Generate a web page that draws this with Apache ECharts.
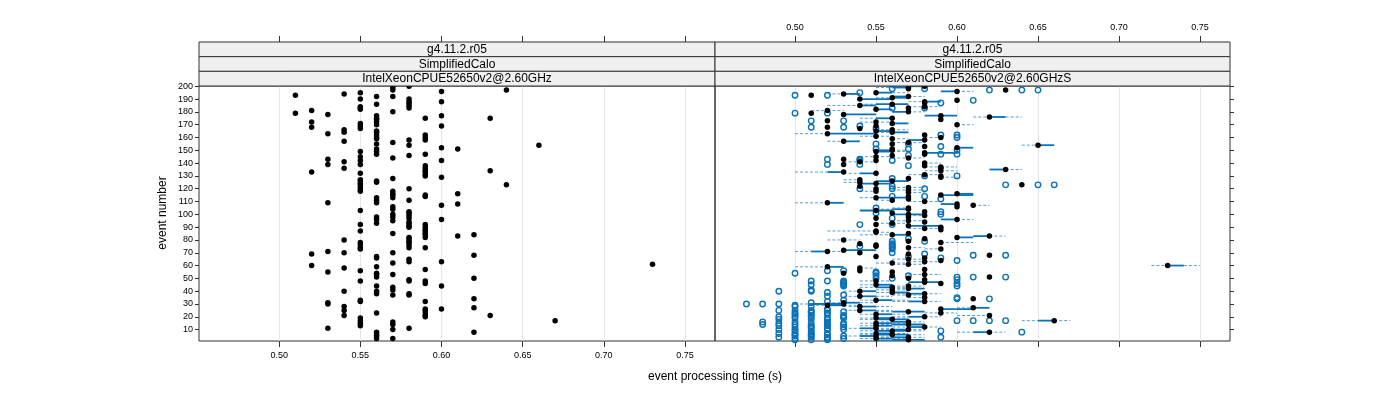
<!DOCTYPE html>
<html><head><meta charset="utf-8">
<script src="https://cdn.jsdelivr.net/npm/echarts@6/dist/echarts.min.js"></script>
<style>html,body{margin:0;padding:0;background:#fff}#c{width:1400px;height:400px}</style>
</head><body><div id="c"></div>
<script>
// ---------------- data ----------------
const xTicks = [0.50, 0.55, 0.60, 0.65, 0.70, 0.75];
const yTicks = [10,20,30,40,50,60,70,80,90,100,110,120,130,140,150,160,170,180,190,200];
const stripLeft = ["g4.11.2.r05", "SimplifiedCalo", "IntelXeonCPUE52650v2@2.60GHz"];
const stripRight = ["g4.11.2.r05", "SimplifiedCalo", "IntelXeonCPUE52650v2@2.60GHzS"];
const xTitle = "event processing time (s)";
const yTitle = "event number";

// left panel: processing time (hundredths of s) and the events at that time
const leftTimes = [51, 52, 53, 54, 55, 56, 57, 58, 59, 60, 61, 62, 63, 64, 66, 67, 73];
const leftEvents = [
  [193,179],
  [181,172,168,133,69,60],
  [178,163,143,139,109,71,55,31,30,11],
  [194,166,164,157,141,136,80,70,58,40,28,25,21],
  [195,190,184,183,182,171,169,167,149,145,142,139,132,127,126,124,123,121,119,118,103,92,87,78,76,74,73,56,48,33,32,19,17,15,13],
  [192,186,177,175,174,172,170,165,164,162,160,159,155,151,149,147,126,125,113,111,109,98,96,93,67,66,59,54,53,51,44,40,38,23,8,6,5,3],
  [199,197,192,180,156,144,128,118,116,115,113,106,104,100,98,95,85,70,62,53,43,41,37,16,14,10,3,1],
  [200,190,188,187,185,183,158,154,146,120,111,102,101,99,97,94,93,91,90,82,81,79,78,76,74,65,63,49,48,38,37,11,1],
  [175,162,160,158,147,138,136,134,133,131,130,115,114,92,90,88,87,85,84,82,74,57,48,46,32,26,25,23,21,20],
  [196,188,177,169,152,142,129,107,96,63,44,26],
  [151,116,108,83],
  [84,68,50,34,27,8],
  [175,134,21],
  [197,123],
  [154],
  [17],
  [61]
];

// right panel: box-and-whisker per event (hundredths of s), events 200 down to 1
const rMed = [
  58,57,57,63,60,55,53,51,57,56,
  54,60,58,58,56,54,58,57,55,52,
  57,51,53,59,62,56,59,52,55,56,
  60,55,52,54,56,55,56,52,58,55,
  59,56,58,53,57,56,65,58,60,56,
  56,55,58,58,56,55,57,53,55,54,
  58,53,58,59,59,63,59,53,55,58,
  59,59,57,54,56,54,55,64,54,57,
  55,57,55,57,60,59,57,55,57,56,
  58,52,60,61,60,57,57,55,58,56,
  57,58,57,55,60,57,58,56,55,57,
  59,58,59,55,55,57,56,62,60,58,
  53,57,59,54,55,55,57,59,53,52,
  54,57,62,55,58,57,59,58,56,57,
  73,52,54,58,54,56,53,58,56,62,
  57,58,55,58,59,55,57,56,57,56,
  54,56,58,57,54,58,61,55,58,53,
  53,52,54,61,59,54,57,59,55,62,
  58,55,56,66,57,55,57,55,58,55,
  57,56,62,55,56,55,57,55,57,56
];
const rQ1 = [
  57,56,57,63,59,55,53,51,56,56,
  54,60,58,58,55,54,58,57,55,52,
  56,51,53,58,62,55,59,52,55,56,
  60,55,52,54,56,55,56,52,58,55,
  59,56,57,53,57,56,65,58,60,56,
  55,55,58,58,56,55,57,53,55,54,
  58,53,58,59,59,62,59,52,54,58,
  59,59,57,54,55,54,54,64,54,57,
  55,57,55,57,60,59,57,55,57,56,
  58,52,59,61,60,57,56,54,58,56,
  56,58,57,55,59,57,58,56,55,57,
  59,58,59,55,55,57,56,61,60,58,
  53,57,59,54,55,55,57,59,53,51,
  54,57,62,55,58,57,59,58,56,57,
  73,52,54,58,54,56,53,58,56,62,
  57,58,55,57,59,55,57,55,57,56,
  54,56,57,57,54,58,61,55,57,53,
  51,52,54,61,59,54,56,59,55,62,
  57,55,55,65,56,55,56,55,57,54,
  56,55,61,55,55,54,56,55,56,55
];
const rQ3 = [
  58,57,57,63,60,56,54,51,57,57,
  56,60,59,58,57,55,58,57,56,52,
  57,51,55,60,63,56,59,52,55,57,
  60,55,52,54,56,56,57,55,58,55,
  59,56,58,54,57,56,66,58,61,56,
  56,56,60,58,56,55,57,53,55,54,
  58,53,58,59,59,63,59,53,55,58,
  59,59,57,54,57,54,56,64,54,57,
  55,57,55,57,61,61,57,57,57,56,
  58,53,60,61,60,57,57,56,58,56,
  58,58,57,55,60,57,58,56,55,59,
  59,58,59,55,55,57,57,62,61,58,
  53,57,59,54,55,55,57,59,55,52,
  54,57,62,55,58,57,59,58,56,57,
  74,53,54,58,54,56,53,58,56,62,
  57,58,55,59,59,56,57,56,58,56,
  55,57,58,57,55,58,61,56,58,54,
  53,53,55,62,61,55,58,59,56,62,
  58,56,57,66,57,56,58,56,58,55,
  57,57,62,56,57,55,57,56,58,57
];
const rLo = [
  56,55,57,63,59,55,52,51,56,55,
  54,60,57,58,54,52,57,57,55,51,
  56,51,53,58,61,54,59,52,54,56,
  60,55,52,54,55,55,55,50,58,54,
  58,56,57,52,56,56,64,58,60,56,
  55,55,58,58,56,54,56,53,55,53,
  58,53,58,58,59,62,58,50,53,57,
  59,59,57,53,55,53,54,64,54,56,
  55,56,54,57,60,59,57,54,57,55,
  57,50,59,61,60,56,55,54,58,56,
  56,57,57,55,59,56,58,55,55,57,
  59,57,59,52,55,57,54,61,60,58,
  52,57,59,54,55,55,57,58,53,50,
  54,57,62,55,58,56,59,57,55,56,
  72,50,54,58,54,56,53,57,56,62,
  57,58,54,57,59,54,56,54,56,55,
  53,55,56,56,53,57,61,54,56,52,
  50,51,53,60,59,53,55,58,54,60,
  56,54,54,64,55,54,55,54,56,53,
  55,54,60,54,54,53,55,54,55,54
];
const rHi = [
  58,57,57,63,61,57,54,51,58,57,
  56,60,59,58,57,55,59,57,56,53,
  58,51,55,60,64,56,59,52,56,57,
  61,55,52,54,57,56,57,55,58,56,
  59,57,58,54,58,56,66,58,61,56,
  57,57,60,58,56,56,58,53,55,55,
  59,53,58,60,59,64,60,53,55,59,
  59,60,57,54,57,54,56,64,54,58,
  55,58,55,58,61,61,57,57,57,56,
  59,53,60,62,60,57,57,56,58,56,
  58,58,57,55,61,58,58,57,55,59,
  59,59,59,55,56,57,57,63,61,58,
  54,57,61,54,55,55,58,59,55,53,
  54,57,62,55,58,58,59,59,57,58,
  75,53,55,58,54,56,53,59,56,62,
  57,58,56,59,59,56,58,57,58,57,
  55,57,59,58,56,58,61,57,59,55,
  53,54,56,62,61,56,58,60,57,62,
  59,57,57,67,58,57,58,56,59,56,
  58,58,63,57,58,56,58,57,58,57
];
// outlying runs: [event, [times in hundredths]]
const rOutliers = [
  [198,[56,58]],[197,[62,64,65]],[195,[54]],[193,[50,52]],[189,[61]],[187,[59]],[183,[56,58]],
  [179,[50,52]],[173,[51,53]],[169,[54]],[168,[51,53]],[167,[55]],[162,[59,60]],[160,[60]],
  [155,[55,57]],[153,[59]],[151,[55,57]],[150,[60]],[147,[59,60]],[146,[57]],[143,[52,54]],
  [142,[54,56]],[139,[52,54]],[138,[57]],[130,[58,60]],[128,[56]],[123,[63,65,66]],[122,[56]],
  [120,[54,56,58]],[114,[56,58]],[112,[59]],[105,[55]],[102,[59]],[101,[55]],[100,[59]],[97,[56]],
  [92,[54,56]],[81,[57]],[79,[56,58]],[77,[56]],[76,[56]],[75,[54,56]],[74,[56]],[73,[56]],
  [70,[56]],[69,[58]],[68,[61,63]],[67,[57]],[66,[59]],[64,[60]],[56,[52,53]],[55,[55]],
  [54,[50,55]],[52,[55,57]],[51,[60,61,63]],[50,[55,56]],[49,[60]],[48,[51,52,53]],[47,[53]],
  [46,[53,60]],[45,[51,53]],[44,[53,60]],[41,[51]],[40,[49,51]],[39,[52]],[37,[53]],[36,[52]],
  [35,[60]],[34,[60,62]],[33,[53]],[32,[52]],[31,[51]],[30,[47,48,49]],[29,[50]],[28,[50,51]],
  [26,[52]],[25,[49,50,51,52]],[24,[51,53]],[23,[50,51,52]],[22,[50,52]],[21,[51,53]],
  [20,[49,50,51,53]],[19,[50,52,53]],[18,[49,51,52]],[17,[60,61,62,63]],[16,[48,50,52]],
  [15,[49,51,53]],[14,[48,50,52,53]],[13,[49,51,52]],[12,[50,51,53]],[11,[51,52]],
  [10,[49,50,52,53]],[9,[50,51,59]],[8,[64]],[7,[49,50,51,52]],[6,[50,51,52]],[5,[50,51,53]],
  [4,[49,51,52,59]],[3,[50,52,53]],[2,[50,51,52]],[1,[50,51,53]]
];

// ---------------- build ----------------
const FONT = 'Liberation Sans, Arial, Helvetica, sans-serif';
const X_MIN = 0.4506, X_MAX = 0.7685, Y_MIN = 1.1, Y_MAX = 200.2;
const BOX = '#0b72b9', WHISK = '#579fd6';

const leftData = [];
leftTimes.forEach((t, i) => leftEvents[i].forEach(ev => leftData.push([t / 100, ev])));
const boxData = [], medData = [];
for (let i = 0; i < rMed.length; i++) {
  const ev = 200 - i;
  boxData.push([ev, rLo[i] / 100, rQ1[i] / 100, rMed[i] / 100, rQ3[i] / 100, rHi[i] / 100]);
  medData.push([rMed[i] / 100, ev]);
}
const outData = [];
rOutliers.forEach(([ev, vals]) => vals.forEach(v => outData.push([v / 100, ev])));

function xAxisCfg(grid, pos, labels, split) {
  return {
    type: 'value', gridIndex: grid, position: pos, min: X_MIN, max: X_MAX,
    axisLine: { show: false, onZero: false },
    axisTick: { show: true, length: 6, inside: false, customValues: xTicks, lineStyle: { color: '#333', width: 1 } },
    axisLabel: { show: labels, customValues: xTicks, formatter: v => v.toFixed(2), fontSize: 9, color: '#000', fontFamily: FONT, margin: 10 },
    splitLine: { show: split, lineStyle: { color: '#e6e6e6', width: 1 } }
  };
}

const graphics = [];
[[199, 516, stripLeft], [715, 515, stripRight]].forEach(([x, w, labels]) => {
  labels.forEach((lab, k) => {
    const y = 42 + k * 14.67;
    graphics.push({ type: 'rect', shape: { x: x, y: y, width: w, height: 14.67 }, style: { fill: '#f0f0f0', stroke: '#333', lineWidth: 1 }, z: 10 });
    graphics.push({ type: 'text', x: x + w / 2, y: y + 7.6, style: { text: lab, fontSize: 12, fontFamily: FONT, fill: '#000', align: 'center', verticalAlign: 'middle' }, z: 11 });
  });
});
graphics.push({ type: 'text', x: 715, y: 377, style: { text: xTitle, fontSize: 12, fontFamily: FONT, fill: '#000', align: 'center', verticalAlign: 'middle' } });
graphics.push({ type: 'text', x: 163, y: 213, rotation: Math.PI / 2, style: { text: yTitle, fontSize: 12, fontFamily: FONT, fill: '#000', align: 'center', verticalAlign: 'middle' } });

const option = {
  animation: false,
  backgroundColor: '#fff',
  grid: [
    { left: 199, top: 86, width: 516, height: 255, show: true, borderColor: '#333', borderWidth: 1, backgroundColor: 'rgba(0,0,0,0)' },
    { left: 715, top: 86, width: 515, height: 255, show: true, borderColor: '#333', borderWidth: 1, backgroundColor: 'rgba(0,0,0,0)' },
    { left: 199, top: 42, width: 516, height: 299, show: false },
    { left: 715, top: 42, width: 515, height: 299, show: false }
  ],
  xAxis: [
    xAxisCfg(0, 'bottom', true, true),
    xAxisCfg(2, 'top', false, false),
    xAxisCfg(1, 'bottom', false, true),
    xAxisCfg(3, 'top', true, false)
  ],
  yAxis: [
    { type: 'value', gridIndex: 0, position: 'left', min: Y_MIN, max: Y_MAX, axisLine: { show: false, onZero: false },
      axisTick: { show: true, length: 4, customValues: yTicks, lineStyle: { color: '#333' } },
      axisLabel: { show: true, customValues: yTicks, fontSize: 9, color: '#000', fontFamily: FONT, margin: 6 },
      splitLine: { show: false } },
    { type: 'value', gridIndex: 1, position: 'right', min: Y_MIN, max: Y_MAX, axisLine: { show: false, onZero: false },
      axisTick: { show: true, length: 4, customValues: yTicks, lineStyle: { color: '#333' } },
      axisLabel: { show: false }, splitLine: { show: false } },
    { type: 'value', gridIndex: 2, show: false, min: 0, max: 1, axisLine: { onZero: false } },
    { type: 'value', gridIndex: 3, show: false, min: 0, max: 1, axisLine: { onZero: false } }
  ],
  graphic: graphics,
  series: [
    { type: 'scatter', xAxisIndex: 0, yAxisIndex: 0, data: leftData, symbol: 'circle', symbolSize: 5.5,
      itemStyle: { color: '#000', opacity: 1 }, silent: true, z: 5 },
    { type: 'custom', xAxisIndex: 2, yAxisIndex: 1, data: boxData, clip: true, silent: true, z: 3,
      encode: { x: [1, 2, 4, 5], y: 0 },
      renderItem: function (params, api) {
        const ev = api.value(0), lo = api.value(1), q1 = api.value(2), q3 = api.value(4), hi = api.value(5);
        const pLo = api.coord([lo, ev]), p1 = api.coord([q1, ev]), p3 = api.coord([q3, ev]), pHi = api.coord([hi, ev]);
        const ch = [];
        if (q1 > lo) ch.push({ type: 'line', shape: { x1: pLo[0], y1: pLo[1], x2: p1[0], y2: p1[1] }, style: { stroke: WHISK, lineWidth: 1, lineDash: [3, 2] } });
        if (hi > q3) ch.push({ type: 'line', shape: { x1: p3[0], y1: p3[1], x2: pHi[0], y2: pHi[1] }, style: { stroke: WHISK, lineWidth: 1, lineDash: [3, 2] } });
        if (q3 > q1) ch.push({ type: 'line', shape: { x1: p1[0], y1: p1[1], x2: p3[0], y2: p3[1] }, style: { stroke: BOX, lineWidth: 1.8 } });
        return { type: 'group', children: ch };
      } },
    { type: 'scatter', xAxisIndex: 2, yAxisIndex: 1, data: outData, symbol: 'circle', symbolSize: 5.5,
      itemStyle: { color: 'rgba(255,255,255,0)', borderColor: BOX, borderWidth: 1.4, opacity: 1 }, silent: true, z: 4 },
    { type: 'scatter', xAxisIndex: 2, yAxisIndex: 1, data: medData, symbol: 'circle', symbolSize: 5.5,
      itemStyle: { color: '#000', opacity: 1 }, silent: true, z: 5 }
  ]
};
const chart = echarts.init(document.getElementById('c'), null, { renderer: 'canvas', width: 1400, height: 400 });
chart.setOption(option);
</script>
</body></html>
